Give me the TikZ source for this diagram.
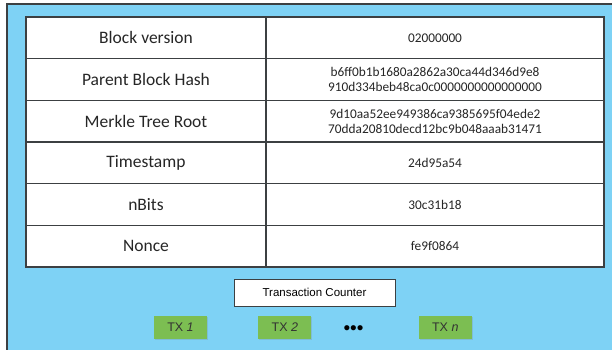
\documentclass[tikz,border=0pt]{standalone}
\usepackage{fontspec}
\setmainfont{Carlito}
\newfontfamily\arialfont{Liberation Sans}
\usepackage{tikz}
\definecolor{hdrBlue}{RGB}{126,210,245}
\definecolor{txGreen}{RGB}{124,190,82}
\definecolor{lineGray}{RGB}{60,64,66}
\usetikzlibrary{positioning, shadows}
\tikzstyle{fieldCell} = [draw=lineGray, line width=1.2pt, fill=white, minimum width=240pt, minimum height=41.67pt, inner sep=0pt, outer sep=0pt, text=black!85, font=\fontsize{17.5}{20}\selectfont]
\tikzstyle{valueCell} = [fieldCell, minimum width=338pt, align=center, font=\fontsize{13.3}{15}\selectfont]
\tikzstyle{counterBox} = [draw=lineGray, line width=1pt, fill=white, minimum width=161pt, minimum height=27pt, inner sep=0pt, font=\arialfont\fontsize{11.5}{13}\selectfont]
\tikzstyle{txBox} = [fill=txGreen, minimum width=53pt, minimum height=23pt, inner sep=0pt, text=black!80, font=\arialfont\fontsize{12.5}{14}\selectfont, drop shadow={shadow xshift=1pt, shadow yshift=-1pt, opacity=0.25}]

\begin{document}
\begin{tikzpicture}[x=1pt, y=-1pt, node distance=0pt]
        \useasboundingbox (0,0) rectangle (612,349);
        \clip (0,0) rectangle (612,349);

        % Frame
        \draw [fill=hdrBlue, draw=lineGray, line width=1.5pt] (7,4) rectangle (640,380);

        % Header fields
        \node [fieldCell] (version) at (146,37.83) {Block version};
        \node [fieldCell, below=of version] (parent) {Parent Block Hash};
        \node [fieldCell, below=of parent] (merkle) {Merkle Tree Root};
        \node [fieldCell, below=of merkle] (time) {Timestamp};
        \node [fieldCell, below=of time] (bits) {nBits};
        \node [fieldCell, below=of bits] (nonce) {Nonce};

        % Values
        \node [valueCell, right=of version] (versionVal) {02000000};
        \node [valueCell, right=of parent] (parentVal) {b6ff0b1b1680a2862a30ca44d346d9e8\\910d334beb48ca0c0000000000000000};
        \node [valueCell, right=of merkle] (merkleVal) {9d10aa52ee949386ca9385695f04ede2\\70dda20810decd12bc9b048aaab31471};
        \node [valueCell, right=of time] (timeVal) {24d95a54};
        \node [valueCell, right=of bits] (bitsVal) {30c31b18};
        \node [valueCell, right=of nonce] (nonceVal) {fe9f0864};

        % Transactions
        \node [counterBox] (counter) at (314.5,292.5) {Transaction Counter};
        \node [txBox] (tx1) at (180.5,327) {TX \textit{1}};
        \node [txBox, right=51pt of tx1] (tx2) {TX \textit{2}};
        \node [font=\arialfont\fontsize{19}{19}\selectfont, inner sep=0pt] (dots) at (353.5,330) {•••};
        \node [txBox, right=107pt of tx2] (txn) {TX \textit{n}};
\end{tikzpicture}
\end{document}
